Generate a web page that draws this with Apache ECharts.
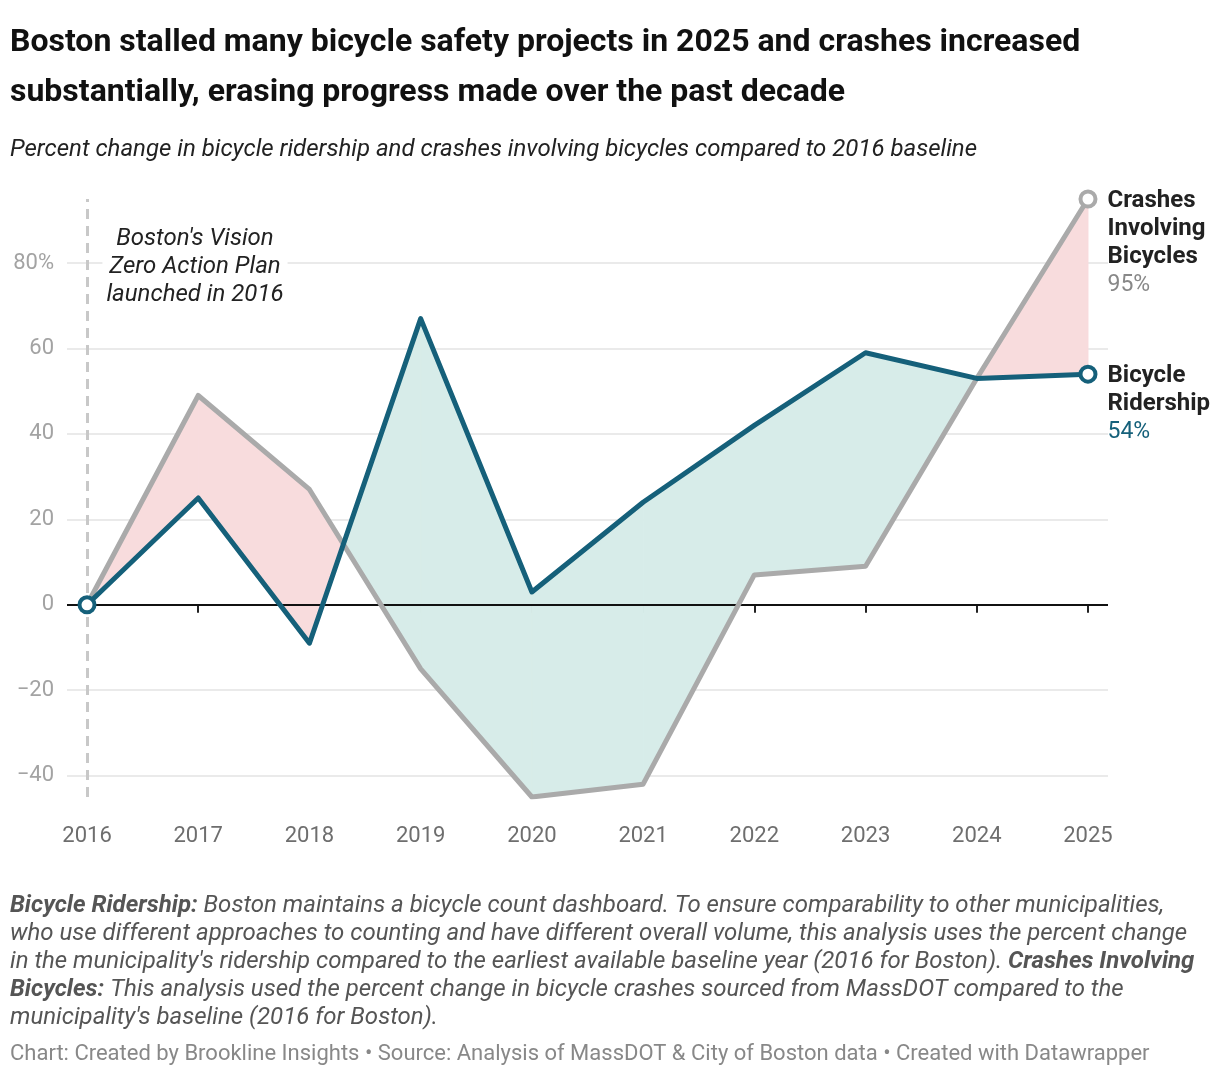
<!DOCTYPE html>
<html>
<head>
<meta charset="utf-8">
<script src="https://cdn.jsdelivr.net/npm/echarts@6/dist/echarts.min.js"></script>
<style>
  html, body { margin: 0; padding: 0; background: #fff; }
  #chart { width: 1220px; height: 1076px; }
</style>
</head>
<body>
<div id="chart"></div>
<script>
// values
const years = [2016, 2017, 2018, 2019, 2020, 2021, 2022, 2023, 2024, 2025];
const ridership = [0, 25, -9, 67, 3, 24, 42, 59, 53, 54];
const crashes = [0, 49, 27, -15, -45, -42, 7, 9, 53, 95];

const yTicks = [-40, -20, 0, 20, 40, 60, 80];

const BLUE = "#15607a";
const GRAY = "#aaaaaa";
const PINK = "#f8dcdd";
const TEAL = "#d7ece9";
const FONT = "Roboto";

const chart = echarts.init(document.getElementById("chart"));

const last = years.length - 1;

function lineData(values, label) {
  return years.map((y, i) => {
    if (i === last) {
      return { value: [y, values[i]], label: label };
    }
    return [y, values[i]];
  });
}

function endLabel(nameLines, valueColor) {
  return {
    show: true,
    position: "right",
    distance: 10,
    align: "left",
    verticalAlign: "top",
    offset: [0, -12],
    formatter: (p) => {
      const n = nameLines.map((t) => "{n|" + t + "}").join("\n");
      return n + "\n{v|" + p.value[1] + "%}";
    },
    rich: {
      n: { fontFamily: FONT, fontSize: 24, fontWeight: "bold", color: "#222", lineHeight: 28 },
      v: { fontFamily: FONT, fontSize: 23, color: valueColor, lineHeight: 28 }
    }
  };
}

// segments between consecutive years, used for the filled gap between the lines
const fillData = years.slice(0, -1).map((y, i) => [
  y, ridership[i], crashes[i], years[i + 1], ridership[i + 1], crashes[i + 1]
]);

function poly(points, color) {
  return {
    type: "polygon",
    shape: { points: points },
    style: { fill: color, stroke: color, lineWidth: 1 }
  };
}

function renderFill(params, api) {
  const x0 = api.value(0), r0 = api.value(1), c0 = api.value(2);
  const x1 = api.value(3), r1 = api.value(4), c1 = api.value(5);
  const R0 = api.coord([x0, r0]), C0 = api.coord([x0, c0]);
  const R1 = api.coord([x1, r1]), C1 = api.coord([x1, c1]);
  const d0 = r0 - c0, d1 = r1 - c1;
  const col = (d) => (d > 0 ? TEAL : PINK);
  const children = [];
  if (d0 * d1 < 0) {
    const t = d0 / (d0 - d1);
    const P = [R0[0] + (R1[0] - R0[0]) * t, R0[1] + (R1[1] - R0[1]) * t];
    children.push(poly([R0, P, C0], col(d0)));
    children.push(poly([P, R1, C1], col(d1)));
  } else {
    children.push(poly([R0, R1, C1, C0], col(d0 !== 0 ? d0 : d1)));
  }
  return { type: "group", children: children };
}

const symbolFn = (ends) => (val, params) =>
  ends.indexOf(params.dataIndex) >= 0 ? "circle" : "none";

const option = {
  backgroundColor: "#fff",
  animation: false,
  title: [
    {
      text: "Boston stalled many bicycle safety projects in 2025 and crashes increased\nsubstantially, erasing progress made over the past decade",
      left: 10,
      top: 18,
      padding: 0,
      textStyle: { fontFamily: FONT, fontSize: 32, fontWeight: "bold", color: "#111", lineHeight: 50 }
    },
    {
      text: "Percent change in bicycle ridership and crashes involving bicycles compared to 2016 baseline",
      left: 10,
      top: 137,
      padding: 0,
      textStyle: { fontFamily: FONT, fontSize: 24, fontStyle: "italic", fontWeight: "normal", color: "#222", lineHeight: 26 }
    }
  ],
  grid: { left: 67, right: 112, top: 199, height: 598, containLabel: false },
  xAxis: {
    type: "value",
    min: 2015.82,
    max: 2025.18,
    splitLine: { show: false },
    axisLine: { show: false },
    axisTick: { show: true, customValues: years, length: 8, lineStyle: { color: "#222", width: 2 } },
    axisLabel: {
      customValues: years,
      margin: 28,
      fontFamily: FONT,
      fontSize: 22,
      color: "#6e6e6e",
      formatter: (v) => String(v)
    }
  },
  yAxis: {
    type: "value",
    min: -45,
    max: 95,
    splitNumber: 7,
    axisLine: { show: false },
    axisTick: { show: false },
    splitLine: { show: true, showMinLine: false, showMaxLine: false, lineStyle: { color: "#e3e3e3", width: 1.5 } },
    axisLabel: {
      showMinLabel: false,
      showMaxLabel: false,
      margin: 13,
      fontFamily: FONT,
      fontSize: 22,
      color: "#a3a3a3",
      formatter: (v) => {
        if (yTicks.indexOf(v) < 0) return "";
        if (v === 80) return "80%";
        return v < 0 ? "\u2212" + Math.abs(v) : String(v);
      }
    }
  },
  series: [
    {
      type: "custom",
      name: "gap",
      z: 1,
      silent: true,
      renderItem: renderFill,
      encode: { x: [0, 3], y: [1, 2, 4, 5] },
      data: fillData,
      markLine: {
        silent: true,
        symbol: "none",
        z: 2,
        label: { show: false },
        data: [
          { yAxis: 0, lineStyle: { color: "#111", width: 2, type: "solid" } },
          { xAxis: years[0], lineStyle: { color: "#c8c8c8", width: 3, type: [10, 7] } }
        ]
      }
    },
    {
      type: "line",
      name: "Crashes Involving Bicycles",
      z: 3,
      data: lineData(crashes, endLabel(["Crashes", "Involving", "Bicycles"], "#888")),
      showSymbol: true,
      showAllSymbol: true,
      symbol: symbolFn([last]),
      symbolSize: 15,
      lineStyle: { color: GRAY, width: 5, join: "round", cap: "round" },
      itemStyle: { color: "#fff", borderColor: GRAY, borderWidth: 4 }
    },
    {
      type: "line",
      name: "Bicycle Ridership",
      z: 4,
      data: lineData(ridership, endLabel(["Bicycle", "Ridership"], BLUE)),
      showSymbol: true,
      showAllSymbol: true,
      symbol: symbolFn([0, last]),
      symbolSize: 15,
      lineStyle: { color: BLUE, width: 5, join: "round", cap: "round" },
      itemStyle: { color: "#fff", borderColor: BLUE, borderWidth: 4 }
    }
  ],
  graphic: [
    {
      type: "text",
      x: 195,
      y: 225,
      z: 100,
      style: {
        text: "Boston's Vision\nZero Action Plan\nlaunched in 2016",
        align: "center",
        verticalAlign: "top",
        font: "italic 24px Roboto",
        fill: "#222",
        lineHeight: 28,
        backgroundColor: "#fff",
        padding: [0, 4]
      }
    },
    {
      type: "text",
      left: 10,
      top: 894,
      style: {
        text:
          "{b|Bicycle Ridership:}{t| Boston maintains a bicycle count dashboard. To ensure comparability to other municipalities,}\n" +
          "{t|who use different approaches to counting and have different overall volume, this analysis uses the percent change}\n" +
          "{t|in the municipality's ridership compared to the earliest available baseline year (2016 for Boston). }{b|Crashes Involving}\n" +
          "{b|Bicycles:}{t| This analysis used the percent change in bicycle crashes sourced from MassDOT compared to the}\n" +
          "{t|municipality's baseline (2016 for Boston).}",
        rich: {
          b: { fontFamily: FONT, fontSize: 24, fontStyle: "italic", fontWeight: "bold", fill: "#555", lineHeight: 28 },
          t: { fontFamily: FONT, fontSize: 24, fontStyle: "italic", fontWeight: "normal", fill: "#555", lineHeight: 28 }
        }
      }
    },
    {
      type: "text",
      left: 10,
      top: 1043,
      style: {
        text: "Chart: Created by Brookline Insights \u2022 Source: Analysis of MassDOT & City of Boston data \u2022 Created with Datawrapper",
        font: "22px Roboto",
        fill: "#888"
      }
    }
  ]
};

chart.setOption(option);

window.addEventListener("resize", () => chart.resize());
</script>
</body>
</html>
